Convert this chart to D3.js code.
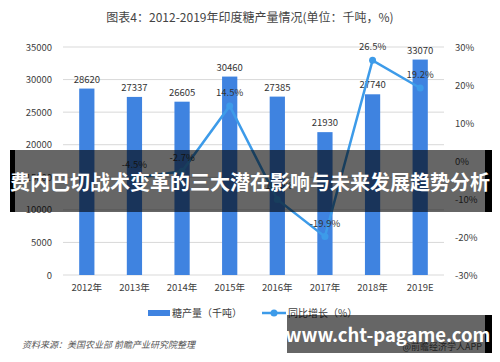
<!DOCTYPE html>
<html>
<head>
<meta charset="utf-8">
<script src="https://cdn.jsdelivr.net/npm/d3@7"></script>
<style>
  body { margin: 0; background: #fff; }
  text { font-family: "Microsoft YaHei", "Noto Sans CJK SC", sans-serif; }
</style>
</head>
<body>
<div id="chart"></div>
<script>
// Chart data
const years = ["2012年", "2013年", "2014年", "2015年", "2016年", "2017年", "2018年", "2019E"];
const output = [28620, 27337, 26605, 30460, 27385, 21930, 27740, 33070];
const growthYears = ["2013年", "2014年", "2015年", "2016年", "2017年", "2018年", "2019E"];
const growth = [-4.5, -2.7, 14.5, -10.1, -19.9, 26.5, 19.2];
const leftTicks = [0, 5000, 10000, 15000, 20000, 25000, 30000, 35000];
const rightTicks = [-30, -20, -10, 0, 10, 20, 30];

let w = 500;
let h = 362;
let plotLeft = 63, plotRight = 444, plotTop = 47, plotBottom = 275;

const barColor = "#3f83e0";
const lineColor = "#3d9be9";

const svg = d3.select("#chart")
  .append("svg")
  .attr("width", w)
  .attr("height", h);

// Scales
const xScale = d3.scaleBand()
  .domain(years)
  .range([plotLeft, plotRight])
  .paddingInner(0.68)
  .paddingOuter(0.34);

const yScale = d3.scaleLinear()
  .domain([0, 35000])
  .range([plotBottom, plotTop]);

const y2Scale = d3.scaleLinear()
  .domain([-30, 30])
  .range([plotBottom, plotTop]);

// Title
svg.append("text")
  .attr("x", 250)
  .attr("y", 22)
  .attr("text-anchor", "middle")
  .attr("font-size", 12)
  .attr("fill", "#444")
  .text("图表4：2012-2019年印度糖产量情况(单位：千吨，%)");

// Gridlines
svg.append("g")
  .selectAll("line")
  .data(leftTicks)
  .enter()
  .append("line")
  .attr("x1", plotLeft)
  .attr("x2", plotRight)
  .attr("y1", d => yScale(d))
  .attr("y2", d => yScale(d))
  .attr("stroke", "#d9d9d9")
  .attr("stroke-width", 1);

// Left axis
const yAxis = d3.axisLeft(yScale).tickValues(leftTicks).tickSize(0).tickPadding(0).tickFormat(d3.format("d"));
const gy = svg.append("g")
  .attr("transform", "translate(52,0)")
  .call(yAxis);
gy.select(".domain").remove();
gy.selectAll("text").attr("font-size", 9.5).attr("fill", "#404040");

// Right axis
const y2Axis = d3.axisRight(y2Scale).tickValues(rightTicks).tickSize(0).tickPadding(0).tickFormat(d => d + "%");
const gy2 = svg.append("g")
  .attr("transform", "translate(455,0)")
  .call(y2Axis);
gy2.select(".domain").remove();
gy2.selectAll("text").attr("font-size", 9.5).attr("fill", "#404040");

// Bottom axis
const xAxis = d3.axisBottom(xScale).tickSize(0).tickPadding(9);
const gx = svg.append("g")
  .attr("transform", "translate(0," + plotBottom + ")")
  .call(xAxis);
gx.select(".domain").remove();
gx.selectAll("text").attr("font-size", 9.5).attr("fill", "#404040");

// Bars
svg.selectAll("rect.bar")
  .data(output)
  .enter()
  .append("rect")
  .attr("class", "bar")
  .attr("x", (d, i) => xScale(years[i]))
  .attr("y", d => yScale(d))
  .attr("width", xScale.bandwidth())
  .attr("height", d => plotBottom - yScale(d))
  .attr("fill", barColor);

svg.selectAll("text.barlabel")
  .data(output)
  .enter()
  .append("text")
  .attr("class", "barlabel")
  .attr("x", (d, i) => xScale(years[i]) + xScale.bandwidth() / 2)
  .attr("y", d => yScale(d) - 6)
  .attr("text-anchor", "middle")
  .attr("font-size", 9.5)
  .attr("fill", "#333")
  .text(d => d);

// Growth line
const cx = (d, i) => xScale(growthYears[i]) + xScale.bandwidth() / 2;
const line = d3.line()
  .x(cx)
  .y(d => y2Scale(d));

svg.append("path")
  .datum(growth)
  .attr("d", line)
  .attr("fill", "none")
  .attr("stroke", lineColor)
  .attr("stroke-width", 2.5);

svg.selectAll("circle.pt")
  .data(growth)
  .enter()
  .append("circle")
  .attr("class", "pt")
  .attr("cx", cx)
  .attr("cy", d => y2Scale(d))
  .attr("r", 3.5)
  .attr("fill", lineColor);

svg.selectAll("text.ptlabel")
  .data(growth)
  .enter()
  .append("text")
  .attr("class", "ptlabel")
  .attr("x", cx)
  .attr("y", d => y2Scale(d) - 10)
  .attr("text-anchor", "middle")
  .attr("font-size", 9.5)
  .attr("fill", "#333")
  .text(d => d.toFixed(1) + "%");

// Legend
svg.append("rect")
  .attr("x", 148).attr("y", 310)
  .attr("width", 22).attr("height", 6)
  .attr("fill", barColor);
svg.append("text")
  .attr("x", 172).attr("y", 317)
  .attr("font-size", 10).attr("fill", "#404040")
  .text("糖产量（千吨）");
svg.append("line")
  .attr("x1", 262).attr("x2", 286)
  .attr("y1", 313).attr("y2", 313)
  .attr("stroke", lineColor).attr("stroke-width", 2.5);
svg.append("circle")
  .attr("cx", 274).attr("cy", 313).attr("r", 3.5)
  .attr("fill", lineColor);
svg.append("text")
  .attr("x", 288).attr("y", 317)
  .attr("font-size", 10).attr("fill", "#404040")
  .text("同比增长（%）");

// Source notes
svg.append("text")
  .attr("x", 22).attr("y", 348)
  .attr("font-size", 9).attr("font-style", "italic").attr("fill", "#555")
  .text("资料来源：美国农业部 前瞻产业研究院整理");
svg.append("text")
  .attr("x", 482).attr("y", 350)
  .attr("text-anchor", "end")
  .attr("font-size", 9).attr("fill", "#555")
  .text("@前瞻经济学人APP");

// Overlay banners
svg.append("rect")
  .attr("x", 10).attr("y", 150).attr("width", 482).attr("height", 62)
  .attr("fill", "rgba(0,0,0,0.6)");
svg.append("rect").attr("x", 10).attr("y", 150).attr("width", 5).attr("height", 62).attr("fill", "#000");
svg.append("rect").attr("x", 485).attr("y", 150).attr("width", 7).attr("height", 62).attr("fill", "#000");
svg.append("text")
  .attr("x", 250).attr("y", 190)
  .attr("text-anchor", "middle")
  .attr("font-size", 20).attr("font-weight", "bold").attr("fill", "#fff")
  .text("费内巴切战术变革的三大潜在影响与未来发展趋势分析");

svg.append("rect")
  .attr("x", 287).attr("y", 315).attr("width", 205).attr("height", 38)
  .attr("fill", "rgba(0,0,0,0.6)");
svg.append("rect").attr("x", 485).attr("y", 315).attr("width", 7).attr("height", 38).attr("fill", "#000");
svg.append("text")
  .attr("x", 388).attr("y", 342)
  .attr("text-anchor", "middle")
  .attr("font-size", 18.5).attr("font-weight", "bold").attr("fill", "#fff")
  .attr("font-family", "'Open Sans', 'DejaVu Sans', sans-serif")
  .text("www.cht-pagame.com");
</script>
</body>
</html>
